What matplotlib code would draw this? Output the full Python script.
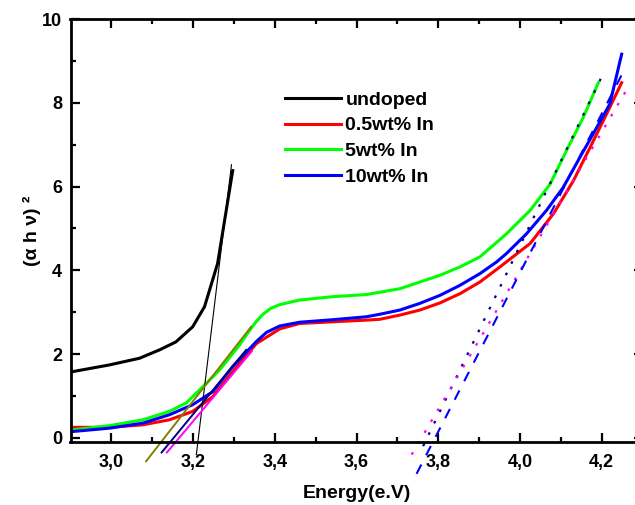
import matplotlib
matplotlib.use("Agg")
import matplotlib.pyplot as plt

plt.rcParams["font.family"] = ["Liberation Sans", "DejaVu Sans"]
plt.rcParams["font.weight"] = "bold"

# measured curves (energy in eV, (alpha h nu)^2)
e_undoped = [2.905, 2.995, 3.069, 3.118, 3.158, 3.199, 3.228, 3.26, 3.297]
y_undoped = [1.58, 1.74, 1.90, 2.10, 2.29, 2.65, 3.13, 4.16, 6.38]

e_05 = [2.905, 2.995, 3.077, 3.142, 3.199, 3.248, 3.297, 3.355, 3.412, 3.461, 3.542,
        3.624, 3.657, 3.706, 3.755, 3.804, 3.853, 3.902, 3.947, 4.025, 4.082, 4.131,
        4.172, 4.212, 4.249]
y_05 = [0.25, 0.25, 0.31, 0.43, 0.63, 0.98, 1.58, 2.25, 2.60, 2.73, 2.77,
        2.81, 2.83, 2.93, 3.05, 3.22, 3.44, 3.72, 4.05, 4.64, 5.35, 6.14,
        6.94, 7.73, 8.48]

e_5 = [2.905, 2.995, 3.077, 3.142, 3.183, 3.224, 3.265, 3.314, 3.338, 3.355, 3.371,
       3.39, 3.412, 3.461, 3.542, 3.624, 3.706, 3.755, 3.804, 3.853, 3.886, 3.902,
       3.967, 4.025, 4.074, 4.114, 4.155, 4.192]
y_5 = [0.19, 0.29, 0.43, 0.63, 0.83, 1.22, 1.62, 2.22, 2.56, 2.78, 2.95,
       3.09, 3.18, 3.29, 3.37, 3.42, 3.56, 3.72, 3.88, 4.08, 4.24, 4.32,
       4.87, 5.43, 6.06, 6.86, 7.65, 8.48]

e_10 = [2.905, 2.995, 3.077, 3.142, 3.199, 3.248, 3.297, 3.355, 3.38, 3.412, 3.461,
        3.542, 3.624, 3.657, 3.706, 3.755, 3.804, 3.853, 3.902, 3.943, 3.967, 4.016,
        4.065, 4.106, 4.147, 4.188, 4.22, 4.249]
y_10 = [0.15, 0.23, 0.35, 0.55, 0.79, 1.10, 1.70, 2.30, 2.52, 2.67, 2.76,
        2.82, 2.89, 2.95, 3.05, 3.21, 3.40, 3.64, 3.92, 4.20, 4.40, 4.87,
        5.43, 5.98, 6.70, 7.41, 7.97, 9.16]

labels = ["undoped", "0.5wt% In", "5wt% In", "10wt% In"]

# linear fits (endpoints)
fit_undoped = ([3.208, 3.294], [-0.40, 6.52])
fit_5_low = ([3.085, 3.342], [-0.56, 2.65])
fit_10_low = ([3.123, 3.33], [-0.35, 2.10])
fit_05_low = ([3.136, 3.344], [-0.35, 2.07])
fit_5_high = ([3.763, 4.206], [-0.20, 8.74])
fit_05_high = ([3.735, 4.26], [-0.40, 8.29])
fit_10_high = ([3.747, 4.252], [-0.86, 8.72])

x_ticks = [3.0, 3.2, 3.4, 3.6, 3.8, 4.0, 4.2]
x_ticklabels = ["3,0", "3,2", "3,4", "3,6", "3,8", "4,0", "4,2"]
y_ticks = [0, 2, 4, 6, 8, 10]

fig = plt.figure(figsize=(6.35, 5.05), dpi=100)
ax = fig.add_axes([70.5 / 635, 63 / 505, 572 / 635, 423 / 505])

lw = 2.2
ax.plot(e_undoped, y_undoped, color="black", lw=lw, label=labels[0])
ax.plot(e_05, y_05, color="#ff0000", lw=lw, label=labels[1])
ax.plot(e_5, y_5, color="#00ff00", lw=lw, label=labels[2])
ax.plot(e_10, y_10, color="#0000ff", lw=lw, label=labels[3])

ax.plot(*fit_undoped, color="black", lw=0.8, clip_on=False)
ax.plot(*fit_5_low, color="#808000", lw=1.4, clip_on=False)
ax.plot(*fit_10_low, color="#000080", lw=1.4, clip_on=False)
ax.plot(*fit_05_low, color="#ff00ff", lw=1.4, clip_on=False)
ax.plot(*fit_5_high, color="#000080", lw=1.6, ls=(0, (1.2, 4.5)), clip_on=False)
ax.plot(*fit_05_high, color="#ff00ff", lw=1.6, ls=(0, (1.2, 4.5)), clip_on=False)
ax.plot(*fit_10_high, color="#0000ff", lw=1.5, ls=(0, (5, 5)), clip_on=False)

ax.set_xlim(2.9, 4.3)
ax.set_ylim(-0.1, 10)
ax.set_xticks(x_ticks)
ax.set_xticklabels(x_ticklabels)
ax.set_xticks([3.1, 3.3, 3.5, 3.7, 3.9, 4.1], minor=True)
ax.set_yticks(y_ticks)
ax.set_yticks([1, 3, 5, 7, 9], minor=True)

ax.tick_params(which="both", direction="in", top=True, right=True, width=1.6,
               labelsize=13)
ax.tick_params(axis="x", which="both", pad=9)
ax.tick_params(axis="y", which="both", pad=6)
ax.tick_params(which="major", length=6.5)
ax.tick_params(which="minor", length=3.5)
for lab in ax.get_xticklabels() + ax.get_yticklabels():
    lab.set_fontweight("bold")
for sp in ax.spines.values():
    sp.set_linewidth(2.0)

ax.set_xlabel("Energy(e.V)", fontsize=14, fontweight="bold", labelpad=10)
ax.set_ylabel("(α h ν) ²", fontsize=14, fontweight="bold", labelpad=1)

ax.legend(loc="upper left", bbox_to_anchor=(285 / 635, 1 - 91 / 505),
          bbox_transform=fig.transFigure, frameon=False, borderpad=0, borderaxespad=0,
          handlelength=2.9, handletextpad=0.2, labelspacing=0.42,
          prop={"size": 14, "weight": "bold"})

fig.savefig("out.png", dpi=100)
